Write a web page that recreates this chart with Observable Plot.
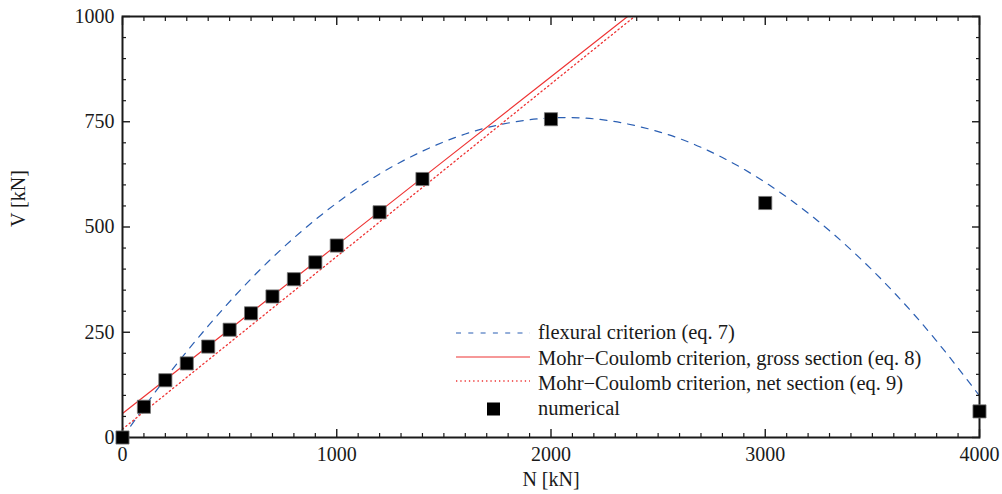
<!DOCTYPE html>
<html><head><meta charset="utf-8">
<script src="https://cdn.jsdelivr.net/npm/d3@7"></script>
<script src="https://cdn.jsdelivr.net/npm/@observablehq/plot@0.6"></script>
<style>
body{margin:0;background:#fff;}
#wrap{position:relative;width:1002px;height:494px;font-family:'Liberation Serif',serif;}
#legend{position:absolute;left:0;top:0;pointer-events:none;}
</style></head><body><div id="wrap"></div>
<script>
// numerical results
const numN = [0,100,200,300,400,500,600,700,800,900,1000,1200,1400,2000,3000,4000];
const numV = [0,73,136,176,216,256,295,335,376,416,456,535,614,756,557,62];
// flexural criterion (eq. 7)
const flexN = [0,200,400,600,800,1000,1200,1400,1600,1800,2000,2200,2400,2600,2800,3000,3200,3400,3600,3800,4000];
const flexV = [0,140,265,377,474,557,626,680,721,747,759,757,740,710,665,606,533,446,345,229,99];
// Mohr-Coulomb gross section (eq. 8)
const grossN = [0,500,1000,1500,2000,2400];
const grossV = [57,257,457,657,857,1017];
// Mohr-Coulomb net section (eq. 9)
const netN = [0,500,1000,1500,2000,2400];
const netV = [20,225,430,635,840,1004];
// ticks
const xMajor = [0,1000,2000,3000,4000];
const yMajor = [0,250,500,750,1000];
const xMinor = d3.range(0,4001,100).filter(d=>d%1000!==0);
const yMinor = d3.range(0,1001,50).filter(d=>d%250!==0);
const legendLabels = ["flexural criterion (eq. 7)","Mohr\u2212Coulomb criterion, gross section (eq. 8)","Mohr\u2212Coulomb criterion, net section (eq. 9)","numerical"];

const FONT = "'Liberation Serif', serif";
const BLUE = "#2b5fb3", RED = "#ee3333", INK = "#1a1a1a";
const num = numN.map((n,i)=>({n, v:numV[i]}));
const flex = flexN.map((n,i)=>({n, v:flexV[i]}));
const gross = grossN.map((n,i)=>({n, v:grossV[i]}));
const net = netN.map((n,i)=>({n, v:netV[i]}));
const fmt = d => String(d);

const tickAxis = (fn, data, anchor, size, w) => fn(data, {anchor, tickSize:-size, fill:"none", stroke:INK, strokeWidth:w, label:null});

const chart = Plot.plot({
  width:1002, height:494,
  marginLeft:122, marginRight:23, marginTop:16, marginBottom:57,
  style:{fontFamily:FONT, fontSize:"20px", color:INK, background:"#fff"},
  x:{domain:[0,4000]},
  y:{domain:[0,1000]},
  marks:[
    Plot.line(flex, {x:"n", y:"v", stroke:BLUE, strokeWidth:1.2, strokeDasharray:"7,7", curve:"natural", clip:true}),
    Plot.line(gross, {x:"n", y:"v", stroke:RED, strokeWidth:1.2, clip:true}),
    Plot.line(net, {x:"n", y:"v", stroke:RED, strokeWidth:1.3, strokeDasharray:"1.3,3", clip:true}),
    tickAxis(Plot.axisX, xMajor, "bottom", 8, 1.4),
    tickAxis(Plot.axisX, xMinor, "bottom", 4, 1.2),
    tickAxis(Plot.axisX, xMajor, "top", 8, 1.4),
    tickAxis(Plot.axisX, xMinor, "top", 4, 1.2),
    tickAxis(Plot.axisY, yMajor, "left", 8, 1.4),
    tickAxis(Plot.axisY, yMinor, "left", 4, 1.2),
    tickAxis(Plot.axisY, yMajor, "right", 8, 1.4),
    tickAxis(Plot.axisY, yMinor, "right", 4, 1.2),
    Plot.axisX(xMajor, {anchor:"bottom", tickSize:0, tickPadding:9, label:null, fill:INK, fontSize:20, tickFormat:fmt, fontFamily:FONT}),
    Plot.axisY(yMajor, {anchor:"left", tickSize:0, tickPadding:8, label:null, fill:INK, fontSize:20, tickFormat:fmt, fontFamily:FONT}),
    Plot.frame({stroke:INK, strokeWidth:2}),
    Plot.text(["N [kN]"], {frameAnchor:"bottom", lineAnchor:"middle", dy:42, fill:INK, fontSize:20, fontFamily:FONT}),
    Plot.text(["V [kN]"], {frameAnchor:"left", lineAnchor:"middle", dx:-104, rotate:-90, fill:INK, fontSize:20, fontFamily:FONT}),
    Plot.dot(num, {x:"n", y:"v", symbol:"square", r:7.4, fill:"#000", stroke:"#777", strokeWidth:0.8})
  ]
});
const wrap = document.getElementById("wrap");
wrap.appendChild(chart);

// legend overlay
const lg = d3.select(wrap).append("svg").attr("id","legend").attr("width",1002).attr("height",494);
const rows = [
  {y:333, base:339, kind:"dash"},
  {y:357, base:365, kind:"solid"},
  {y:381, base:390, kind:"dot"},
  {y:409, base:415, kind:"square"}
];
rows.forEach((r,i)=>{
  if (r.kind==="square") {
    lg.append("rect").attr("x",487).attr("y",r.y-6.5).attr("width",13).attr("height",13).attr("fill","#000");
  } else {
    const l = lg.append("line").attr("x1",456).attr("x2",530).attr("y1",r.y).attr("y2",r.y)
      .attr("stroke", r.kind==="dash"?BLUE:RED).attr("stroke-width",1.2);
    if (r.kind==="dash") l.attr("stroke-dasharray","5,7.3");
    if (r.kind==="dot") l.attr("stroke-dasharray","1.3,3").attr("stroke-width",1.3);
  }
  lg.append("text").attr("x",538).attr("y",r.base).attr("fill",INK)
    .style("font-family",FONT).style("font-size","20.5px").text(legendLabels[i]);
});
</script></body></html>
